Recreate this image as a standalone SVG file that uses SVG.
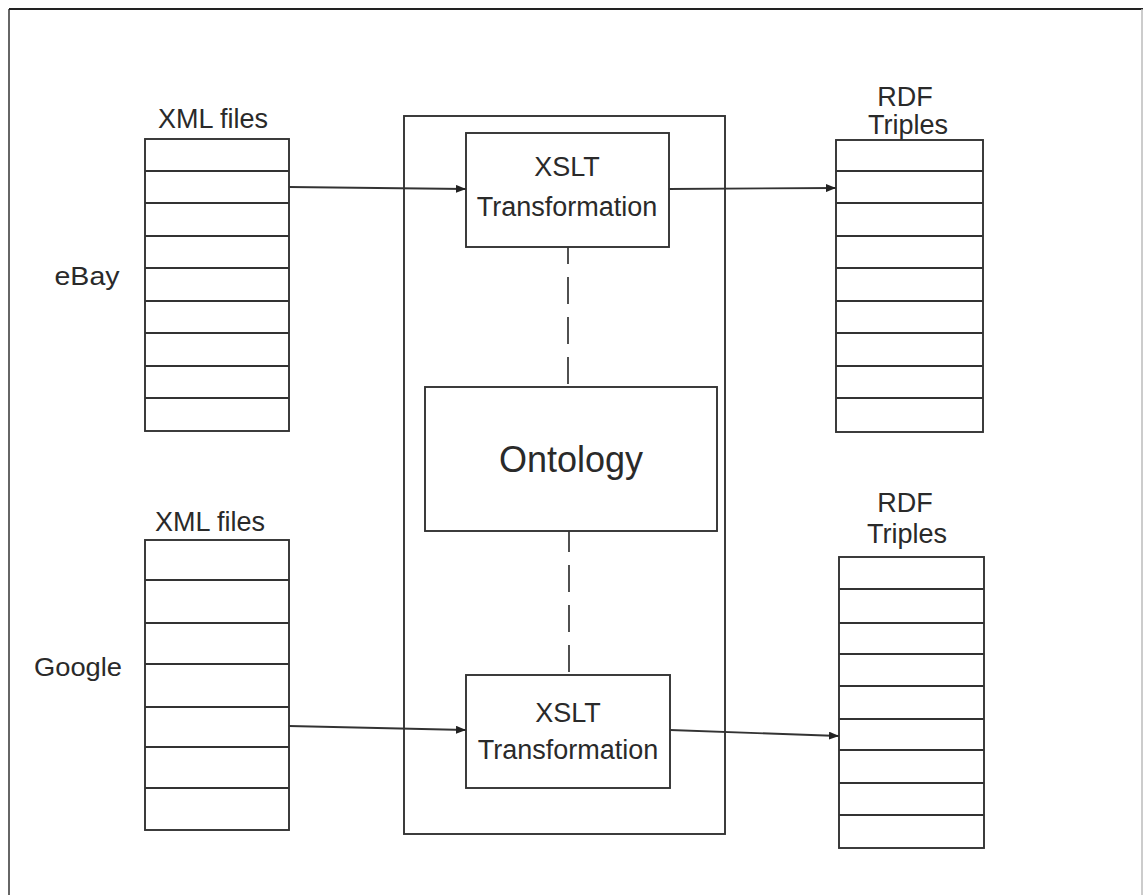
<svg xmlns="http://www.w3.org/2000/svg" width="1143" height="895" viewBox="0 0 1143 895">
<style>
.box{fill:#fff;stroke:#333;stroke-width:1.9}
.ln{stroke:#333;stroke-width:1.8;fill:none}
.dash{stroke:#333;stroke-width:1.7;stroke-dasharray:27 13;fill:none}
.t{font-family:"Liberation Sans",Arial,sans-serif;fill:#2a2a2a;text-anchor:middle}
</style>
<defs>
<marker id="ah" markerWidth="10" markerHeight="8" refX="10" refY="4" orient="auto" markerUnits="userSpaceOnUse">
<path d="M0,0 L10,4 L0,8 Z" fill="#222"/>
</marker>
</defs>
<line x1="9" y1="9" x2="9" y2="895" stroke="#666" stroke-width="2"/>
<line x1="9" y1="9" x2="1143" y2="9" stroke="#222" stroke-width="2"/>
<line x1="1142" y1="9" x2="1142" y2="895" stroke="#bbb" stroke-width="1.5"/>

<g id="container"><rect class="box" x="404" y="116" width="321" height="718"/></g>

<g id="xml-ebay">
<text class="t" x="213" y="128" font-size="27">XML files</text>
<rect class="box" x="145" y="139" width="144" height="292"/>
<path class="ln" d="M145,171H289M145,203H289M145,236H289M145,268H289M145,301H289M145,333H289M145,366H289M145,398H289"/>
</g>
<g id="label-ebay"><text class="t" x="87" y="285" font-size="25" textLength="65" lengthAdjust="spacingAndGlyphs">eBay</text></g>

<g id="xml-google">
<text class="t" x="210" y="531" font-size="27">XML files</text>
<rect class="box" x="145" y="540" width="144" height="290"/>
<path class="ln" d="M145,580H289M145,623H289M145,664H289M145,707H289M145,747H289M145,788H289"/>
</g>
<g id="label-google"><text class="t" x="78" y="676" font-size="25" textLength="88" lengthAdjust="spacingAndGlyphs">Google</text></g>

<g id="rdf-top">
<text class="t" x="905" y="106" font-size="27">RDF</text>
<text class="t" x="908" y="134" font-size="27">Triples</text>
<rect class="box" x="836" y="140" width="147" height="292"/>
<path class="ln" d="M836,171H983M836,203H983M836,236H983M836,268H983M836,301H983M836,333H983M836,366H983M836,398H983"/>
</g>

<g id="rdf-bottom">
<text class="t" x="905" y="512" font-size="27">RDF</text>
<text class="t" x="907" y="543" font-size="27">Triples</text>
<rect class="box" x="839" y="557" width="145" height="291"/>
<path class="ln" d="M839,589H984M839,623H984M839,654H984M839,686H984M839,719H984M839,750H984M839,783H984M839,815H984"/>
</g>

<g id="xslt-top">
<rect class="box" x="466" y="133" width="203" height="114"/>
<text class="t" x="567" y="176" font-size="27">XSLT</text>
<text class="t" x="567" y="216" font-size="27">Transformation</text>
</g>

<g id="ontology">
<rect class="box" x="425" y="387" width="292" height="144"/>
<text class="t" x="571" y="472" font-size="36">Ontology</text>
</g>

<g id="xslt-bottom">
<rect class="box" x="466" y="675" width="204" height="113"/>
<text class="t" x="568" y="722" font-size="27">XSLT</text>
<text class="t" x="568" y="759" font-size="27">Transformation</text>
</g>

<g id="connectors">
<line class="ln" x1="289" y1="187" x2="466" y2="189" marker-end="url(#ah)"/>
<line class="ln" x1="669" y1="189" x2="836" y2="188" marker-end="url(#ah)"/>
<line class="ln" x1="289" y1="726" x2="466" y2="730" marker-end="url(#ah)"/>
<line class="ln" x1="670" y1="730" x2="839" y2="736" marker-end="url(#ah)"/>
<path class="dash" d="M568,247V387" stroke-dashoffset="10"/>
<path class="dash" d="M569,531V675" stroke-dashoffset="6"/>
</g>
</svg>
